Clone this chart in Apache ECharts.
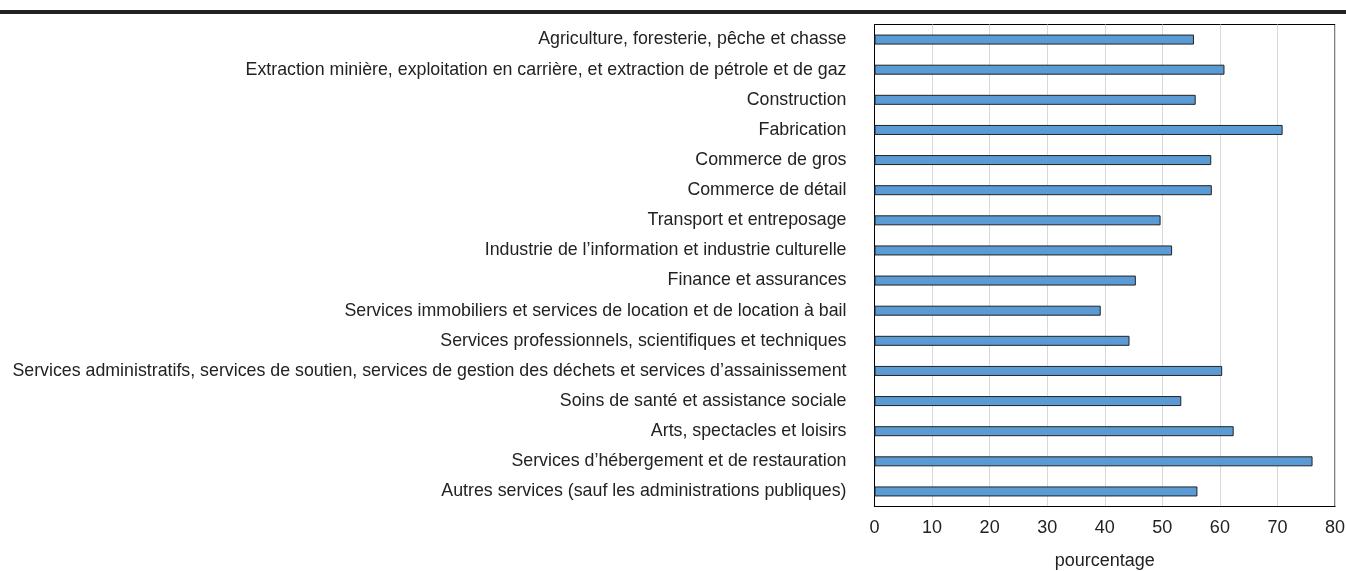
<!DOCTYPE html>
<html><head><meta charset="utf-8">
<script src="https://cdn.jsdelivr.net/npm/echarts@6/dist/echarts.min.js"></script>
<style>html,body{margin:0;padding:0;background:#fff}#c{width:1346px;height:571px}</style>
</head><body><div id="c"></div>
<script>
const categories = [
  "Agriculture, foresterie, pêche et chasse",
  "Extraction minière, exploitation en carrière, et extraction de pétrole et de gaz",
  "Construction",
  "Fabrication",
  "Commerce de gros",
  "Commerce de détail",
  "Transport et entreposage",
  "Industrie de l’information et industrie culturelle",
  "Finance et assurances",
  "Services immobiliers et services de location et de location à bail",
  "Services professionnels, scientifiques et techniques",
  "Services administratifs, services de soutien, services de gestion des déchets et services d’assainissement",
  "Soins de santé et assistance sociale",
  "Arts, spectacles et loisirs",
  "Services d’hébergement et de restauration",
  "Autres services (sauf les administrations publiques)"
];
const values = [55.5, 60.8, 55.8, 70.9, 58.5, 58.6, 49.7, 51.7, 45.4, 39.3, 44.3, 60.4, 53.3, 62.4, 76.1, 56.1];
const xAxisName = "pourcentage";
const font = "'Liberation Sans', Arial, sans-serif";

const chart = echarts.init(document.getElementById('c'));
chart.setOption({
  animation: false,
  graphic: [{type:'rect', shape:{x:0,y:10,width:1346,height:4}, style:{fill:'#222'}}],
  grid: {left: 874.5, right: 11, top: 24.5, bottom: 64.5, containLabel: false, outerBoundsMode: 'none', show: true, borderColor: '#000', borderWidth: 1},
  xAxis: {
    type: 'value', min: 0, max: 80, interval: 10,
    name: xAxisName, nameLocation: 'middle', nameGap: 46,
    nameTextStyle: {fontFamily: font, fontSize: 18, color: '#222'},
    axisLine: {show: true, lineStyle: {color: '#000'}},
    axisTick: {show: false},
    axisLabel: {fontFamily: font, fontSize: 18, color: '#222', margin: 13},
    splitLine: {show: true, lineStyle: {color: '#d9d9d9', width: 1}}
  },
  yAxis: {
    type: 'category', data: categories, inverse: true,
    axisLine: {show: true, lineStyle: {color: '#000'}},
    axisTick: {show: false},
    axisLabel: {fontFamily: font, fontSize: 17.8, color: '#222', margin: 28}
  },
  series: [{
    type: 'bar', data: values, barWidth: 10,
    itemStyle: {color: '#5b9bd5', borderColor: '#222', borderWidth: 1}
  }]
});
</script></body></html>
